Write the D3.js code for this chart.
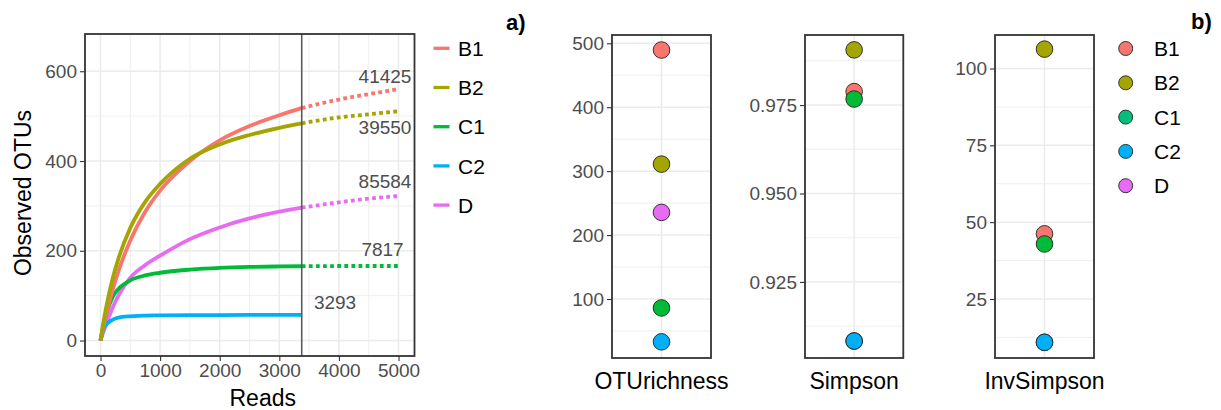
<!DOCTYPE html>
<html>
<head>
<meta charset="utf-8">
<script src="https://cdn.jsdelivr.net/npm/d3@7"></script>
<style>
  html, body { margin: 0; padding: 0; background: #fff; }
  svg { display: block; font-family: "Liberation Sans", Arial, Helvetica, sans-serif; }
</style>
</head>
<body>
<svg id="chart" width="1221" height="410"></svg>
<script>
// ---- Rarefaction curves ----
const samples = ["B1", "B2", "C1", "C2", "D"];
const depth = [0, 50, 100, 200, 300, 500, 750, 1000, 1500, 2000, 2500, 3000, 3376, 4000, 4500, 5000];
const otuB1 = [0, 32, 61, 111, 154, 223, 287, 334, 400, 446, 478, 502, 518, 537, 549, 560];
const otuB2 = [0, 41, 77, 136, 182, 251, 309, 349, 405, 437, 458, 474, 484, 497, 504, 511];
const otuC1 = [0, 35, 60, 96, 115, 134, 145, 151, 158, 162, 164, 165, 165.5, 166, 166, 166];
const otuC2 = [0, 25, 36, 46, 51, 54, 55.5, 56, 56.5, 56.8, 57, 57, 57];
const otuD  = [0, 20, 38, 72, 100, 140, 168, 189, 226, 252, 272, 287, 296, 308, 316, 322];
const rarefyDepth = 3376;
const totalReads = [41425, 39550, 7817, 3293, 85584];
const labelReads = [4773, 4773, 4732, 3935, 4773];
const labelOTUs  = [590, 475, 204, 85, 356];
const xTicks = [0, 1000, 2000, 3000, 4000, 5000];
const yTicks = [0, 200, 400, 600];

// ---- Diversity indices ----
const indices = ["OTUrichness", "Simpson", "InvSimpson"];
const richness   = [489.5, 311, 86, 33, 235.5];
const simpson    = [0.9788, 0.9906, 0.9767, 0.9083, 0.9083];
const invSimpson = [46.2, 106.3, 42.9, 10.9, 10.9];
const richTicks = [100, 200, 300, 400, 500];
const simpTicks = [0.925, 0.950, 0.975];
const invTicks  = [25, 50, 75, 100];

const lineColors  = ["#F8766D", "#A3A500", "#00BA38", "#00B0F6", "#E76BF3"];
const fillLegend  = ["#F8766D", "#A3A500", "#00BF7D", "#00B0F6", "#E76BF3"];

const svg = d3.select("#chart");
const tickCol = "#4D4D4D", borderCol = "#333333", gridCol = "#EBEBEB";

// ================= Left: rarefaction =================
const L = {left: 85, right: 414.5, top: 34, bottom: 356};
const x = d3.scaleLinear().domain([-260, 5268]).range([L.left, L.right]);
const y = d3.scaleLinear().domain([-34.5, 683]).range([L.bottom, L.top]);

const gL = svg.append("g");
// grid
const xMinor = [500, 1500, 2500, 3500, 4500];
const yMinor = [100, 300, 500];
gL.selectAll(".xmin").data(xMinor).join("line")
  .attr("x1", d => x(d)).attr("x2", d => x(d)).attr("y1", L.top).attr("y2", L.bottom)
  .attr("stroke", gridCol).attr("stroke-width", 0.8);
gL.selectAll(".ymin").data(yMinor).join("line")
  .attr("y1", d => y(d)).attr("y2", d => y(d)).attr("x1", L.left).attr("x2", L.right)
  .attr("stroke", gridCol).attr("stroke-width", 0.8);
gL.selectAll(".xmaj").data(xTicks).join("line")
  .attr("x1", d => x(d)).attr("x2", d => x(d)).attr("y1", L.top).attr("y2", L.bottom)
  .attr("stroke", gridCol).attr("stroke-width", 1.5);
gL.selectAll(".ymaj").data(yTicks).join("line")
  .attr("y1", d => y(d)).attr("y2", d => y(d)).attr("x1", L.left).attr("x2", L.right)
  .attr("stroke", gridCol).attr("stroke-width", 1.5);

// curves: solid up to the rarefaction depth, dotted beyond
const otuSeries = [otuB1, otuB2, otuC1, otuC2, otuD];
const line = d3.line().x(d => x(d[0])).y(d => y(d[1])).curve(d3.curveMonotoneX);
const drawOrder = [4, 2, 3, 0, 1];
drawOrder.forEach(i => {
  const pts = otuSeries[i].map((v, k) => [depth[k], v]);
  const solid = pts.filter(p => p[0] <= rarefyDepth);
  const dotted = pts.filter(p => p[0] >= rarefyDepth);
  gL.append("path").attr("d", line(solid)).attr("fill", "none")
    .attr("stroke", lineColors[i]).attr("stroke-width", 3.8);
  if (dotted.length > 1) {
    gL.append("path").attr("d", line(dotted)).attr("fill", "none")
      .attr("stroke", lineColors[i]).attr("stroke-width", 3.8)
      .attr("stroke-dasharray", "3.8,3.3");
  }
});

// rarefaction depth marker
gL.append("line").attr("x1", x(rarefyDepth)).attr("x2", x(rarefyDepth))
  .attr("y1", L.top).attr("y2", L.bottom).attr("stroke", "#5a5a5a").attr("stroke-width", 1.6);

// read count labels
gL.selectAll(".lab").data(samples).join("text")
  .attr("x", (d, i) => x(labelReads[i])).attr("y", (d, i) => y(labelOTUs[i]) + 6.8)
  .attr("text-anchor", "middle").attr("font-size", 19).attr("fill", tickCol)
  .text((d, i) => totalReads[i]);

// border
gL.append("rect").attr("x", L.left).attr("y", L.top)
  .attr("width", L.right - L.left).attr("height", L.bottom - L.top)
  .attr("fill", "none").attr("stroke", borderCol).attr("stroke-width", 1.8);

// axes
const xAxis = gL.append("g").attr("transform", `translate(0,${L.bottom})`)
  .call(d3.axisBottom(x).tickValues(xTicks).tickFormat(d3.format("d")).tickSize(5).tickPadding(4));
const yAxis = gL.append("g").attr("transform", `translate(${L.left},0)`)
  .call(d3.axisLeft(y).tickValues(yTicks).tickFormat(d3.format("d")).tickSize(5).tickPadding(3));
[xAxis, yAxis].forEach(a => {
  a.select(".domain").remove();
  a.selectAll(".tick line").attr("stroke", borderCol).attr("stroke-width", 1.1);
  a.selectAll(".tick text").attr("fill", tickCol).attr("font-size", 19)
    .attr("font-family", "Liberation Sans, Arial, sans-serif");
});
xAxis.selectAll(".tick text").attr("dy", "0.71em").attr("y", 8);

gL.append("text").attr("x", (L.left + L.right) / 2 + 13).attr("y", 406)
  .attr("text-anchor", "middle").attr("font-size", 23).attr("fill", "#000").text("Reads");
gL.append("text").attr("transform", `translate(31,193) rotate(-90)`)
  .attr("text-anchor", "middle").attr("font-size", 23).attr("fill", "#000").text("Observed OTUs");

// legend (lines)
const legA = svg.append("g");
samples.forEach((s, i) => {
  const cy = 48.3 + i * 39.2;
  legA.append("line").attr("x1", 433.5).attr("x2", 449.5).attr("y1", cy).attr("y2", cy)
    .attr("stroke", lineColors[i]).attr("stroke-width", 3.3);
  legA.append("text").attr("x", 458).attr("y", cy + 7.6).attr("font-size", 21)
    .attr("fill", "#000").text(s);
});

svg.append("text").attr("x", 506).attr("y", 30).attr("font-size", 22)
  .attr("font-weight", "bold").attr("fill", "#000").text("a)");
svg.append("text").attr("x", 1191).attr("y", 29).attr("font-size", 22)
  .attr("font-weight", "bold").attr("fill", "#000").text("b)");

// ================= Right: diversity panels =================
const P = {top: 35, bottom: 358};
const panels = [
  {name: indices[0], vals: richness, ticks: richTicks, domain: [7.7, 513], minor: [50, 150, 250, 350, 450], x0: 612, x1: 711, fmt: d3.format("d")},
  {name: indices[1], vals: simpson, ticks: simpTicks, domain: [0.9035, 0.9948], minor: [0.9125, 0.9375, 0.9625, 0.9875], x0: 805, x1: 903.3, fmt: d3.format(".3f")},
  {name: indices[2], vals: invSimpson, ticks: invTicks, domain: [5.8, 110.9], minor: [12.5, 37.5, 62.5, 87.5], x0: 995, x1: 1094, fmt: d3.format("d")}
];
const pointOrder = [4, 0, 1, 2, 3];

panels.forEach(p => {
  const g = svg.append("g");
  const ys = d3.scaleLinear().domain(p.domain).range([P.bottom, P.top]);
  const xb = d3.scaleBand().domain([p.name]).range([p.x0, p.x1]);
  const cx = xb(p.name) + xb.bandwidth() / 2;

  g.selectAll(".min").data(p.minor).join("line")
    .attr("x1", p.x0).attr("x2", p.x1).attr("y1", d => ys(d)).attr("y2", d => ys(d))
    .attr("stroke", gridCol).attr("stroke-width", 0.8);
  g.selectAll(".maj").data(p.ticks).join("line")
    .attr("x1", p.x0).attr("x2", p.x1).attr("y1", d => ys(d)).attr("y2", d => ys(d))
    .attr("stroke", gridCol).attr("stroke-width", 1.5);
  g.append("line").attr("x1", cx).attr("x2", cx).attr("y1", P.top).attr("y2", P.bottom)
    .attr("stroke", gridCol).attr("stroke-width", 1.5);

  g.selectAll(".pt").data(pointOrder).join("circle")
    .attr("cx", cx).attr("cy", i => ys(p.vals[i])).attr("r", 8.3)
    .attr("fill", i => lineColors[i]).attr("stroke", "#222").attr("stroke-width", 0.9);

  g.append("rect").attr("x", p.x0).attr("y", P.top)
    .attr("width", p.x1 - p.x0).attr("height", P.bottom - P.top)
    .attr("fill", "none").attr("stroke", borderCol).attr("stroke-width", 1.8);

  const ax = g.append("g").attr("transform", `translate(${p.x0},0)`)
    .call(d3.axisLeft(ys).tickValues(p.ticks).tickFormat(p.fmt).tickSize(5).tickPadding(3));
  ax.select(".domain").remove();
  ax.selectAll(".tick line").attr("stroke", borderCol).attr("stroke-width", 1.1);
  ax.selectAll(".tick text").attr("fill", tickCol).attr("font-size", 19)
    .attr("font-family", "Liberation Sans, Arial, sans-serif");

  g.append("text").attr("x", cx).attr("y", 389).attr("text-anchor", "middle")
    .attr("font-size", 23).attr("fill", "#000").text(p.name);
});

// legend (points)
const legB = svg.append("g");
samples.forEach((s, i) => {
  const cy = 48.5 + i * 34.3;
  legB.append("circle").attr("cx", 1125.7).attr("cy", cy).attr("r", 7)
    .attr("fill", fillLegend[i]).attr("stroke", "#222").attr("stroke-width", 0.9);
  legB.append("text").attr("x", 1154).attr("y", cy + 7.6).attr("font-size", 21)
    .attr("fill", "#000").text(s);
});
</script>
</body>
</html>
